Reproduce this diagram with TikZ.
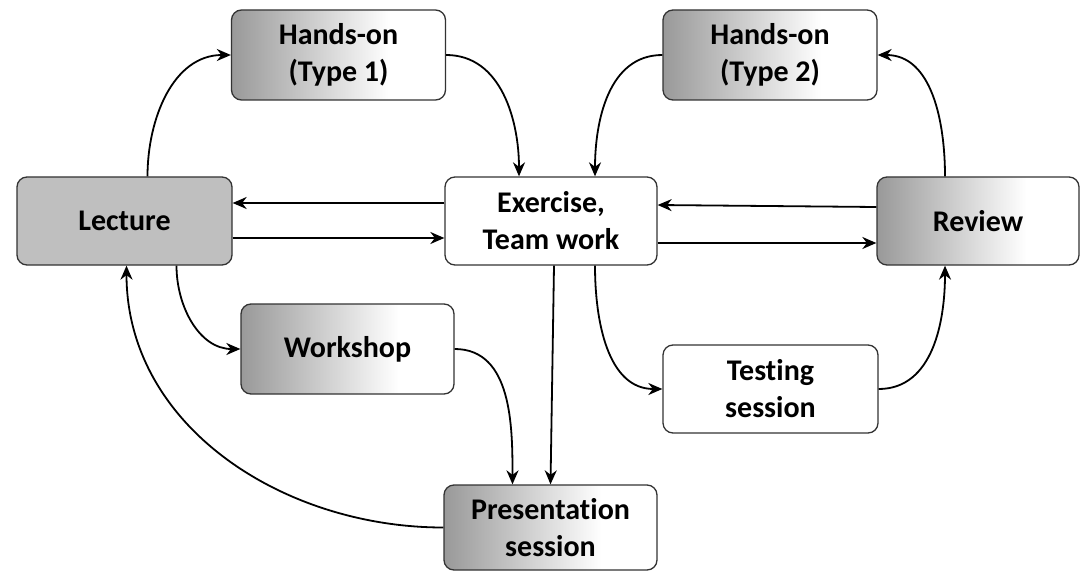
\documentclass[tikz,border=0pt]{standalone}
\usepackage{fontspec}
\setmainfont{Carlito}[Ligatures=NoCommon]
\usetikzlibrary{arrows.meta,calc}
\pgfdeclarehorizontalshading{grwh}{100bp}{color(0bp)=(black!40); color(25bp)=(black!40); color(62bp)=(white); color(100bp)=(white)}
\tikzset{
  box/.style={draw=black!80, line width=1.3pt, rounded corners=10pt, align=center,
    font=\bfseries\fontsize{30}{37}\selectfont, inner sep=0pt},
  shadebox/.style={box, shading=grwh, shading angle=0},
  plainbox/.style={box, fill=white},
  graybox/.style={box, fill=black!25},
  conn/.style={line width=1.8pt, -{Stealth[length=14pt,width=12pt,inset=4.5pt]}},
}
\begin{document}
\begin{tikzpicture}[x=1pt,y=-1pt]
\useasboundingbox (0,0) rectangle (1083,572);
\node[shadebox, minimum width=214pt, minimum height=90pt] (h1) at (338.5,55) {Hands-on\\(Type 1)};
\node[shadebox, minimum width=214pt, minimum height=90pt] (h2) at (770,55) {Hands-on\\(Type 2)};
\node[graybox, minimum width=215pt, minimum height=88pt] (lec) at (124.5,221) {Lecture};
\node[plainbox, minimum width=212pt, minimum height=88pt] (ex) at (551,221) {Exercise,\\Team work};
\node[shadebox, minimum width=202pt, minimum height=88pt] (rev) at (978,221) {Review};
\node[shadebox, minimum width=213pt, minimum height=90pt] (ws) at (347.5,349) {Workshop};
\node[plainbox, minimum width=215pt, minimum height=88pt] (ts) at (770.5,389) {Testing\\session};
\node[shadebox, minimum width=213pt, minimum height=85pt] (pres) at (550.5,527.5) {Presentation\\session};

\draw[conn] ([xshift=23pt]lec.north) to[out=90,in=180] (h1.west);
\draw[conn] (h1.east) to[out=0,in=90] ([xshift=-32pt]ex.north);
\draw[conn] ([yshift=18pt]ex.west) -- ([yshift=18pt]lec.east);
\draw[conn] ([yshift=-17pt]lec.east) -- ([yshift=-17pt]ex.west);
\draw[conn] (h2.west) to[out=180,in=90] ([xshift=44pt]ex.north);
\draw[conn] ([xshift=-33pt]rev.north) to[out=90,in=0] (h2.east);
\draw[conn] ([yshift=14pt]rev.west) -- ([yshift=16pt]ex.east);
\draw[conn] ([yshift=-22pt]ex.east) -- ([yshift=-22pt]rev.west);
\draw[conn] ([xshift=3pt]ex.south) -- (pres.north);
\draw[conn] ([xshift=44pt]ex.south) to[out=-90,in=180] (ts.west);
\draw[conn] (ts.east) to[out=0,in=-90] ([xshift=-33pt]rev.south);
\draw[conn] ([xshift=52pt]lec.south) to[out=-90,in=180] (ws.west);
\draw[conn] (ws.east) to[out=0,in=90] ([xshift=-38pt]pres.north);
\draw[conn] (pres.west) to[out=180,in=-90] ([xshift=2pt]lec.south);
\end{tikzpicture}
\end{document}
